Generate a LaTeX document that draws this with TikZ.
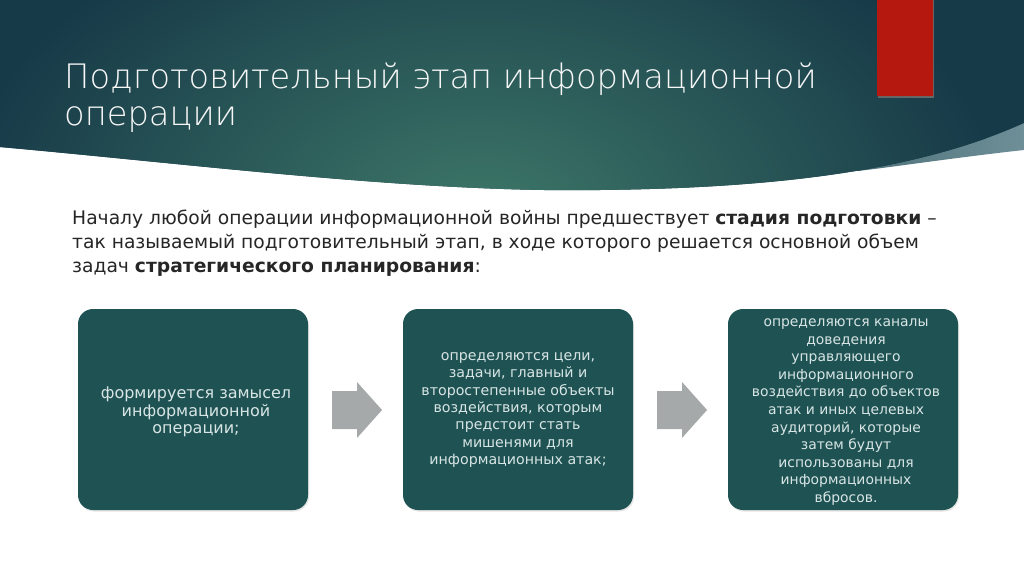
\documentclass[tikz,border=0pt]{standalone}
\usepackage{fontspec}
\setmainfont{DejaVu Sans}
\IfFontExistsTF{DejaVu Sans ExtraLight}{\newfontfamily\titlefont{DejaVu Sans ExtraLight}}{\newfontfamily\titlefont{DejaVu Sans}}
\definecolor{hdark}{HTML}{173A48}
\definecolor{hlight}{HTML}{3D7768}
\definecolor{sliverL}{HTML}{4F727B}
\definecolor{sliverR}{HTML}{6E8F98}
\definecolor{redbar}{HTML}{B4180F}
\definecolor{boxfill}{HTML}{1F5253}
\definecolor{boxtext}{HTML}{D8E5E5}
\definecolor{bodytext}{HTML}{262626}
\definecolor{arrowgray}{HTML}{A6A9A9}
\tikzset{
  stepbox/.style={fill=boxfill, rounded corners=15pt, minimum width=230pt, minimum height=201pt, inner sep=0pt},
  boxshadow/.style={fill=black!10, rounded corners=15pt, minimum width=230pt, minimum height=201pt, inner sep=0pt},
  boxlabel/.style={text=boxtext, align=center},
  titletext/.style={anchor=base west, inner sep=0pt, text=white!94!gray, font=\titlefont\fontsize{33.7}{40}\selectfont},
  bodyline/.style={anchor=base west, inner sep=0pt, text=bodytext, font=\fontsize{18.7}{24}\selectfont},
  pics/blockarrow/.style={code={
    \fill[arrowgray] (0,-19) -- (25,-19) -- (25,-28) -- (50,0) -- (25,28) -- (25,19) -- (0,19) -- cycle;
  }}
}
\begin{document}
\begin{tikzpicture}[x=1pt,y=-1pt]
\useasboundingbox (0,0) rectangle (1024,576);
\fill[white] (0,0) rectangle (1024,576);
% sliver
\shade[left color=sliverL, right color=sliverR] (1024,100) -- (1024,150) .. controls (960,157) and (900,166) .. (858,171) -- (858,100) -- cycle;
% header
\begin{scope}
\clip (0,0) -- (1024,0) -- (1024,123) .. controls (920,170) and (780,188) .. (600,190) .. controls (420,193) and (200,165) .. (0,147) -- cycle;
\fill[hdark] (0,0) rectangle (1024,200);
\shade[inner color=hlight, outer color=hdark] (480,215) ellipse [x radius=520, y radius=330];
\end{scope}
% red bar
\fill[black!60] (878,0) rectangle (934,98);
\fill[redbar] (877,0) rectangle (933,96);
% title
\node[titletext] (t1) at (64,88) {Подготовительный этап информационной};
\node[titletext] (t2) at (64,125) {операции};
% body
\node[bodyline] (b1) at (72,224) {Началу любой операции информационной войны предшествует \textbf{стадия подготовки} –};
\node[bodyline] (b2) at (72,248) {так называемый подготовительный этап, в ходе которого решается основной объем};
\node[bodyline] (b3) at (72,272) {задач \textbf{стратегического планирования}:};
% boxes
\node[boxshadow] (h1) at (194,411) {};
\node[boxshadow] (h2) at (519,411) {};
\node[boxshadow] (h3) at (844,411) {};
\node[stepbox] (s1) at (193,409.5) {};
\node[stepbox] (s2) at (518,409.5) {};
\node[stepbox] (s3) at (843,409.5) {};
\node[boxlabel, font=\fontsize{16}{17.6}\selectfont] (l1) at (196,412) {формируется замысел\\информационной\\операции;};
\node[boxlabel, font=\fontsize{14.2}{17.4}\selectfont] (l2) at (518,410) {определяются цели,\\задачи, главный и\\второстепенные объекты\\воздействия, которым\\предстоит стать\\мишенями для\\информационных атак;};
\node[boxlabel, font=\fontsize{13.9}{17.6}\selectfont] (l3) at (846,412) {определяются каналы\\доведения\\управляющего\\информационного\\воздействия до объектов\\атак и иных целевых\\аудиторий, которые\\затем будут\\использованы для\\информационных\\вбросов.};
% arrows
\pic (a1) at (332,410) {blockarrow};
\pic (a2) at (657,410) {blockarrow};
\end{tikzpicture}
\end{document}
